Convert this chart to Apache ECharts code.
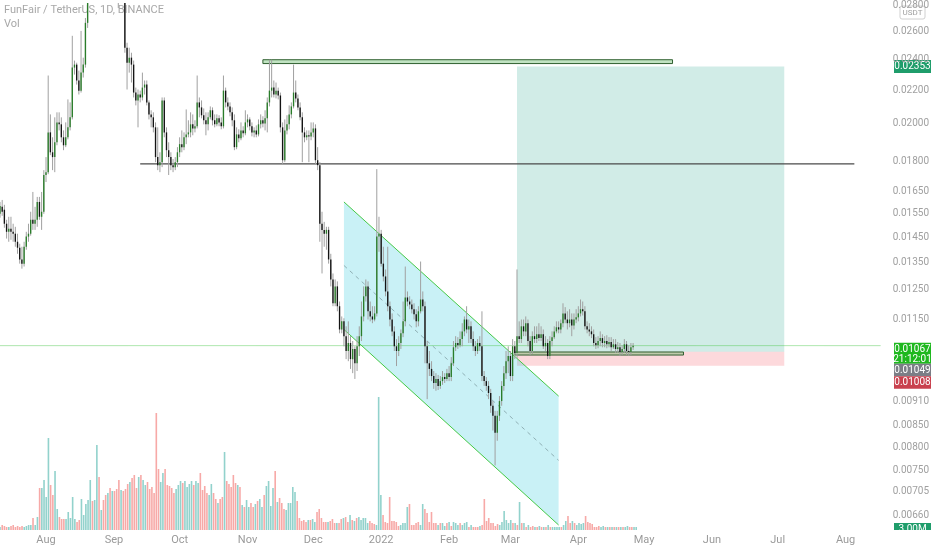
<!DOCTYPE html>
<html>
<head>
<meta charset="utf-8">
<script src="https://cdn.jsdelivr.net/npm/echarts@6/dist/echarts.min.js"></script>
<style>html,body{margin:0;padding:0;background:#fff;}#c{width:932px;height:550px;}</style>
</head>
<body>
<div id="c"></div>
<script>
// ---------- data ----------
const START_DATE = '2021-07-11';
const DAY_COUNT = 403;
const MONTHS = ['Jan','Feb','Mar','Apr','May','Jun','Jul','Aug','Sep','Oct','Nov','Dec'];
const yTicks = [0.028,0.026,0.024,0.022,0.020,0.018,0.0165,0.0155,0.0145,0.0135,0.0125,0.0115,0.0091,0.0085,0.0080,0.0075,0.00705,0.0066];

// daily candles [open, close, low, high] from 2021-07-11
const candles = [
[0.01550,0.01585,0.01533,0.01603],[0.01581,0.01559,0.01541,0.01612],[0.01568,0.01507,0.01490,0.01590],[0.01507,0.01473,0.01445,0.01524],
[0.01473,0.01486,0.01432,0.01537],[0.01486,0.01473,0.01440,0.01537],[0.01473,0.01465,0.01432,0.01507],[0.01465,0.01432,0.01412,0.01494],
[0.01432,0.01408,0.01384,0.01465],[0.01408,0.01362,0.01346,0.01424],[0.01362,0.01346,0.01327,0.01412],[0.01346,0.01412,0.01335,0.01432],
[0.01412,0.01453,0.01400,0.01473],[0.01453,0.01465,0.01432,0.01507],[0.01465,0.01524,0.01457,0.01559],[0.01524,0.01507,0.01481,0.01649],
[0.01507,0.01524,0.01481,0.01581],[0.01524,0.01603,0.01494,0.01626],[0.01603,0.01537,0.01524,0.01626],[0.01537,0.01559,0.01481,0.01649],
[0.01559,0.01730,0.01550,0.01754],[0.01730,0.01744,0.01696,0.01820],[0.01744,0.01952,0.01734,0.02293],[0.01952,0.01845,0.01830,0.02054],
[0.01845,0.01820,0.01754,0.01925],[0.01820,0.01898,0.01744,0.02037],[0.01898,0.02008,0.01882,0.02066],[0.02008,0.01997,0.01963,0.02066],
[0.01997,0.01925,0.01898,0.02037],[0.01925,0.01882,0.01856,0.01963],[0.01882,0.01925,0.01872,0.02008],[0.01925,0.01980,0.01914,0.02143],
[0.01980,0.02037,0.01963,0.02125],[0.02037,0.02345,0.02025,0.02566],[0.02345,0.02365,0.02299,0.02392],[0.02365,0.02261,0.02235,0.02378],
[0.02261,0.02197,0.02173,0.02325],[0.02197,0.02312,0.02185,0.02602],[0.02312,0.02365,0.02280,0.02412],[0.02365,0.02662,0.02345,0.02699],
[0.02662,0.02979,0.02624,0.03064],[0.02979,0.03180,0.02950,0.03300],[0.03180,0.03120,0.03000,0.03350],[0.03120,0.03380,0.03080,0.03520],
[0.03380,0.03650,0.03300,0.03900],[0.03650,0.03420,0.03300,0.03780],[0.03420,0.03550,0.03350,0.03700],[0.03550,0.03380,0.03250,0.03620],
[0.03380,0.03250,0.03150,0.03480],[0.03250,0.03320,0.03180,0.03420],[0.03320,0.03150,0.03080,0.03380],[0.03150,0.03200,0.03050,0.03300],
[0.03200,0.03080,0.03000,0.03250],[0.03080,0.03000,0.02880,0.03150],[0.03000,0.02950,0.02776,0.03050],[0.02950,0.03020,0.02850,0.03100],
[0.03020,0.02900,0.02860,0.03080],[0.02900,0.02481,0.02446,0.02950],[0.02481,0.02378,0.02204,0.02516],[0.02378,0.02412,0.02312,0.02481],
[0.02412,0.02365,0.02248,0.02446],[0.02365,0.02185,0.02155,0.02392],[0.02185,0.02137,0.02107,0.02216],[0.02137,0.02173,0.01980,0.02204],
[0.02173,0.02155,0.02125,0.02197],[0.02155,0.02216,0.02137,0.02312],[0.02216,0.02235,0.02173,0.02261],[0.02235,0.02125,0.02107,0.02261],
[0.02125,0.02054,0.02025,0.02137],[0.02054,0.02037,0.01980,0.02078],[0.02037,0.01980,0.01952,0.02066],[0.01980,0.01820,0.01794,0.02008],
[0.01820,0.01779,0.01754,0.01980],[0.01779,0.01794,0.01744,0.01845],[0.01794,0.02137,0.01769,0.02155],[0.02137,0.01952,0.01925,0.02155],
[0.01952,0.01856,0.01820,0.01980],[0.01856,0.01820,0.01730,0.01898],[0.01820,0.01779,0.01754,0.01845],[0.01779,0.01769,0.01744,0.01810],
[0.01769,0.01794,0.01754,0.01820],[0.01794,0.01845,0.01769,0.01872],[0.01845,0.01888,0.01820,0.01925],[0.01888,0.01872,0.01845,0.01963],
[0.01872,0.01925,0.01856,0.01952],[0.01925,0.01941,0.01888,0.02083],[0.01941,0.01952,0.01925,0.02020],[0.01952,0.01997,0.01925,0.02066],
[0.01997,0.01974,0.01936,0.02054],[0.01974,0.01986,0.01952,0.02020],[0.01986,0.02125,0.01974,0.02293],[0.02125,0.02095,0.02037,0.02155],
[0.02095,0.02049,0.02031,0.02137],[0.02049,0.02020,0.01997,0.02089],[0.02020,0.01997,0.01936,0.02066],[0.01997,0.02037,0.01963,0.02066],
[0.02037,0.02078,0.02025,0.02101],[0.02078,0.02020,0.01991,0.02095],[0.02020,0.01997,0.01980,0.02054],[0.01997,0.02031,0.01986,0.02054],
[0.02031,0.02008,0.01986,0.02049],[0.02008,0.01986,0.01969,0.02037],[0.01986,0.02197,0.01974,0.02293],[0.02197,0.02125,0.02095,0.02216],
[0.02125,0.02101,0.02078,0.02155],[0.02101,0.02066,0.02043,0.02125],[0.02066,0.02020,0.01986,0.02095],[0.02020,0.01872,0.01856,0.02054],
[0.01872,0.01941,0.01861,0.01980],[0.01941,0.01920,0.01898,0.01969],[0.01920,0.01963,0.01909,0.02008],[0.01963,0.01947,0.01925,0.01986],
[0.01947,0.02008,0.01936,0.02078],[0.02008,0.02025,0.01980,0.02054],[0.02025,0.01986,0.01963,0.02037],[0.01986,0.01952,0.01930,0.02008],
[0.01952,0.01963,0.01925,0.01980],[0.01963,0.01941,0.01925,0.01991],[0.01941,0.01997,0.01930,0.02025],[0.01997,0.02020,0.01974,0.02054],
[0.02020,0.02002,0.01980,0.02043],[0.02002,0.02031,0.01963,0.02078],[0.02031,0.02125,0.01952,0.02155],[0.02125,0.02197,0.02101,0.02398],
[0.02197,0.02216,0.02155,0.02398],[0.02216,0.02173,0.02155,0.02261],[0.02173,0.02197,0.02149,0.02248],[0.02197,0.02167,0.02143,0.02216],
[0.02167,0.01980,0.01952,0.02185],[0.01980,0.01804,0.01784,0.02008],[0.01804,0.01963,0.01794,0.02025],[0.01963,0.01997,0.01941,0.02049],
[0.01997,0.02054,0.01969,0.02107],[0.02054,0.02101,0.02031,0.02125],[0.02101,0.02185,0.02089,0.02365],[0.02185,0.02149,0.02125,0.02261],
[0.02149,0.02095,0.02078,0.02173],[0.02095,0.02037,0.02020,0.02125],[0.02037,0.01952,0.01794,0.02066],[0.01952,0.01925,0.01898,0.01980],
[0.01925,0.01936,0.01909,0.01963],[0.01936,0.01930,0.01794,0.01963],[0.01930,0.01952,0.01909,0.02008],[0.01952,0.01974,0.01925,0.02008],
[0.01974,0.01804,0.01784,0.01997],[0.01804,0.01779,0.01754,0.01872],[0.01779,0.01507,0.01432,0.01794],[0.01507,0.01481,0.01309,0.01559],
[0.01481,0.01465,0.01412,0.01515],[0.01465,0.01481,0.01400,0.01494],[0.01481,0.01362,0.01346,0.01494],[0.01362,0.01287,0.01262,0.01384],
[0.01287,0.01203,0.01193,0.01309],[0.01203,0.01262,0.01193,0.01287],[0.01262,0.01193,0.01176,0.01280],[0.01193,0.01117,0.01105,0.01209],
[0.01117,0.01143,0.01105,0.01159],[0.01143,0.01096,0.01065,0.01153],[0.01096,0.01051,0.01027,0.01127],[0.01051,0.01075,0.01021,0.01143],
[0.01075,0.01027,0.00999,0.01096],[0.01027,0.01057,0.00987,0.01081],[0.01057,0.01015,0.00971,0.01065],[0.01015,0.01065,0.00993,0.01096],
[0.01065,0.01096,0.01036,0.01127],[0.01096,0.01159,0.01081,0.01209],[0.01159,0.01227,0.01143,0.01262],[0.01227,0.01262,0.01209,0.01287],
[0.01262,0.01176,0.01149,0.01280],[0.01176,0.01159,0.01143,0.01209],[0.01159,0.01149,0.01137,0.01193],[0.01149,0.01169,0.01143,0.01193],
[0.01169,0.01453,0.01159,0.01759],[0.01453,0.01465,0.01392,0.01537],[0.01465,0.01346,0.01335,0.01481],[0.01346,0.01298,0.01280,0.01412],
[0.01298,0.01244,0.01227,0.01324],[0.01244,0.01193,0.01176,0.01412],[0.01193,0.01149,0.01127,0.01209],[0.01149,0.01111,0.01096,0.01169],
[0.01111,0.01065,0.01051,0.01127],[0.01065,0.01051,0.01007,0.01087],[0.01051,0.01075,0.01036,0.01096],[0.01075,0.01105,0.01057,0.01117],
[0.01105,0.01143,0.01093,0.01209],[0.01143,0.01223,0.01127,0.01335],[0.01223,0.01209,0.01193,0.01244],[0.01209,0.01199,0.01183,0.01227],
[0.01199,0.01183,0.01169,0.01216],[0.01183,0.01166,0.01149,0.01203],[0.01166,0.01143,0.01124,0.01183],[0.01143,0.01176,0.01127,0.01193],
[0.01176,0.01216,0.01169,0.01354],[0.01216,0.01193,0.01176,0.01244],[0.01193,0.01065,0.01015,0.01209],[0.01065,0.01015,0.00917,0.01081],
[0.01015,0.00999,0.00979,0.01051],[0.00999,0.00979,0.00965,0.01021],[0.00979,0.00960,0.00944,0.00993],[0.00960,0.00971,0.00939,0.00987],
[0.00971,0.00952,0.00941,0.00982],[0.00952,0.00965,0.00944,0.00979],[0.00965,0.00976,0.00955,0.00993],[0.00976,0.00971,0.00960,0.00987],
[0.00971,0.00987,0.00965,0.00999],[0.00987,0.00976,0.00965,0.01007],[0.00976,0.01015,0.00965,0.01033],[0.01015,0.01062,0.01007,0.01081],
[0.01062,0.01075,0.01051,0.01096],[0.01075,0.01068,0.01057,0.01093],[0.01068,0.01087,0.01062,0.01111],[0.01087,0.01111,0.01065,0.01137],
[0.01111,0.01149,0.01096,0.01159],[0.01149,0.01117,0.01105,0.01193],[0.01117,0.01127,0.01075,0.01149],[0.01127,0.01087,0.01075,0.01143],
[0.01087,0.01065,0.01051,0.01111],[0.01065,0.01051,0.01036,0.01081],[0.01051,0.01075,0.01042,0.01087],[0.01075,0.01065,0.01051,0.01096],
[0.01065,0.00979,0.00965,0.01176],[0.00979,0.00965,0.00952,0.00993],[0.00965,0.00952,0.00939,0.00976],[0.00952,0.00933,0.00917,0.00965],
[0.00933,0.00900,0.00882,0.00944],[0.00900,0.00875,0.00839,0.00912],[0.00875,0.00834,0.00760,0.00887],[0.00834,0.00875,0.00815,0.00887],
[0.00875,0.00912,0.00862,0.00925],[0.00912,0.00952,0.00900,0.00965],[0.00952,0.00987,0.00939,0.01007],[0.00987,0.01021,0.00971,0.01051],
[0.01021,0.01036,0.00987,0.01065],[0.01036,0.00979,0.00965,0.01051],[0.00979,0.01065,0.00965,0.01087],[0.01065,0.01045,0.01027,0.01081],
[0.01045,0.01096,0.01030,0.01324],[0.01096,0.01087,0.01075,0.01143],[0.01087,0.01127,0.01075,0.01149],[0.01127,0.01111,0.01096,0.01149],
[0.01111,0.01137,0.01096,0.01159],[0.01137,0.01081,0.01065,0.01149],[0.01081,0.01051,0.01039,0.01096],[0.01051,0.01096,0.01042,0.01111],
[0.01096,0.01087,0.01075,0.01127],[0.01087,0.01102,0.01075,0.01127],[0.01102,0.01090,0.01081,0.01137],[0.01090,0.01102,0.01081,0.01127],
[0.01102,0.01065,0.01057,0.01117],[0.01065,0.01075,0.01051,0.01096],[0.01075,0.01036,0.01027,0.01087],[0.01036,0.01081,0.01027,0.01096],
[0.01081,0.01093,0.01065,0.01111],[0.01093,0.01111,0.01087,0.01127],[0.01111,0.01124,0.01105,0.01143],[0.01124,0.01117,0.01105,0.01143],
[0.01117,0.01137,0.01105,0.01149],[0.01137,0.01169,0.01124,0.01203],[0.01169,0.01149,0.01137,0.01190],[0.01149,0.01137,0.01117,0.01176],
[0.01137,0.01149,0.01124,0.01183],[0.01149,0.01130,0.01096,0.01169],[0.01130,0.01149,0.01117,0.01169],[0.01149,0.01156,0.01137,0.01183],
[0.01156,0.01169,0.01143,0.01193],[0.01169,0.01183,0.01159,0.01216],[0.01183,0.01176,0.01162,0.01209],[0.01176,0.01127,0.01117,0.01193],
[0.01127,0.01117,0.01105,0.01143],[0.01117,0.01111,0.01096,0.01137],[0.01111,0.01102,0.01090,0.01127],[0.01102,0.01075,0.01065,0.01117],
[0.01075,0.01068,0.01057,0.01093],[0.01068,0.01081,0.01059,0.01096],[0.01081,0.01090,0.01065,0.01111],[0.01090,0.01075,0.01062,0.01102],
[0.01075,0.01081,0.01062,0.01096],[0.01081,0.01071,0.01059,0.01099],[0.01071,0.01078,0.01062,0.01093],[0.01078,0.01062,0.01051,0.01093],
[0.01062,0.01071,0.01057,0.01087],[0.01071,0.01057,0.01045,0.01087],[0.01057,0.01062,0.01045,0.01078],[0.01062,0.01048,0.01036,0.01075],
[0.01048,0.01057,0.01039,0.01068],[0.01057,0.01071,0.01045,0.01087],[0.01071,0.01051,0.01039,0.01081],[0.01051,0.01048,0.01036,0.01068],
[0.01048,0.01062,0.01039,0.01075],[0.01062,0.01067,0.01054,0.01075]
];

// daily volume (millions)
const volumes = [
3,5,4,3,3,4,5,3,4,3,4,3,4,5,5,
12,5,13,42,42,50,33,92,45,35,
59,21,13,11,11,11,18,12,33,11,
8,10,31,15,26,30,50,29,30,85,
53,20,30,35,37,42,39,39,41,50,
40,39,41,46,48,52,55,42,53,55,
50,45,48,41,43,37,117,61,48,57,
61,45,44,42,37,41,45,49,47,49,
43,46,49,45,49,47,57,40,44,37,
35,46,37,31,27,31,33,78,49,46,
43,55,47,45,43,25,23,30,23,27,
23,26,29,31,23,35,44,49,24,42,
59,28,32,27,21,20,27,27,43,38,
29,12,9,10,8,10,10,11,8,18,
21,12,8,8,8,9,11,
7,7,7,11,12,13,8,15,10,9,12,13,10,12,12,7,9,7,6,5,
133,
35,15,8,7,33,9,9,8,4,5,7,7,23,26,
5,5,7,8,5,
26,21,17,8,18,7,7,5,7,7,4,7,8,4,8,7,5,7,5,7,8,3,5,3,3,3,4,5,31,
9,12,7,7,4,6,5,8,19,10,7,10,7,7,5,
28,
7,7,3,5,3,4,3,3,4,3,3,3,5,3,3,3,3,3,3,5,
9,14,7,9,7,5,7,6,7,14,8,7,6,3,3,4,3,4,3,3,3,3,3,3,3,3,3,3,4,3,3,3,3
];

// drawings (date, price)
const lastPrice = 0.01067;
const countdown = '21:12:01';
const targetPrice = 0.02353;
const entryPrice = 0.01049;
const stopPrice = 0.01008;
const positionSpan = ['2022-03-04', '2022-07-04'];
const channelUpper = [['2021-12-15', 0.01603], ['2022-03-23', 0.00925]];
const channelMid   = [['2021-12-15', 0.01339], ['2022-03-23', 0.00771]];
const channelLower = [['2021-12-15', 0.01117], ['2022-03-23', 0.00642]];
const resistanceBox = [['2021-11-08', 0.02398], ['2022-05-14', 0.02372]];
const entryBox = [['2022-03-03', 0.01048], ['2022-05-19', 0.01039]];
const supportLine = [['2021-09-13', 0.01785], ['2022-08-05', 0.01785]];

// ---------- build ----------
const dates = [];
const t0 = Date.parse(START_DATE + 'T00:00:00Z');
for (let i = 0; i < DAY_COUNT; i++) dates.push(new Date(t0 + i * 86400000).toISOString().slice(0, 10));
const idx = d => dates.indexOf(d);

const UP = '#2a7d2a', DOWN = '#141414', WICK = '#a0a0a0';
const VOL_UP = 'rgba(38,166,154,0.5)', VOL_DOWN = 'rgba(239,83,80,0.5)';
const FONT = 'Roboto, "Noto Sans", sans-serif';

function candleItem(params, api) {
  const i = api.value(0);
  const o = api.value(1), c = api.value(2), l = api.value(3), h = api.value(4);
  const pO = api.coord([i, o]), pC = api.coord([i, c]);
  const pL = api.coord([i, l]), pH = api.coord([i, h]);
  const band = api.coord([i + 1, c])[0] - pC[0];
  const w = Math.max(1, band * 0.62);
  const top = Math.min(pO[1], pC[1]);
  const hgt = Math.max(1, Math.abs(pO[1] - pC[1]));
  return { type: 'group', children: [
    { type: 'line', shape: { x1: pH[0], y1: pH[1], x2: pL[0], y2: pL[1] }, style: { stroke: WICK, lineWidth: 1 } },
    { type: 'rect', shape: { x: pC[0] - w / 2, y: top, width: w, height: hgt }, style: { fill: c >= o ? UP : DOWN } }
  ]};
}

function rectOf(a, b) {
  return { x: Math.min(a[0], b[0]), y: Math.min(a[1], b[1]), width: Math.abs(b[0] - a[0]), height: Math.abs(b[1] - a[1]) };
}

function drawingItem(params, api) {
  const P = (d, v) => api.coord([idx(d), v]);
  const seg = (pts, style) => {
    const a = P(pts[0][0], pts[0][1]), b = P(pts[1][0], pts[1][1]);
    return { type: 'line', shape: { x1: a[0], y1: a[1], x2: b[0], y2: b[1] }, style };
  };
  const pl0 = api.coord([0, lastPrice]), pl1 = api.coord([DAY_COUNT - 1, lastPrice]);
  return { type: 'group', children: [
    { type: 'rect', shape: rectOf(P(positionSpan[0], targetPrice), P(positionSpan[1], entryPrice)), style: { fill: 'rgba(8,153,129,0.19)' } },
    { type: 'rect', shape: rectOf(P(positionSpan[0], entryPrice), P(positionSpan[1], stopPrice)), style: { fill: 'rgba(242,54,69,0.19)' } },
    { type: 'polygon', shape: { points: [
        P(channelUpper[0][0], channelUpper[0][1]), P(channelUpper[1][0], channelUpper[1][1]),
        P(channelLower[1][0], channelLower[1][1]), P(channelLower[0][0], channelLower[0][1]) ] },
      style: { fill: 'rgba(0,188,212,0.21)' } },
    seg(channelUpper, { stroke: '#45c945', lineWidth: 1 }),
    seg(channelLower, { stroke: '#45c945', lineWidth: 1 }),
    seg(channelMid, { stroke: '#8fb0b5', lineWidth: 1, lineDash: [4, 4] }),
    seg(supportLine, { stroke: '#4a4a4a', lineWidth: 1.2 }),
    { type: 'line', shape: { x1: pl0[0], y1: pl0[1], x2: pl1[0], y2: pl1[1] }, style: { stroke: 'rgba(76,200,76,0.45)', lineWidth: 1 } },
    { type: 'rect', shape: rectOf(P(resistanceBox[0][0], resistanceBox[0][1]), P(resistanceBox[1][0], resistanceBox[1][1])),
      style: { fill: 'rgba(76,175,80,0.35)', stroke: '#2f5f2f', lineWidth: 1 } },
    { type: 'rect', shape: rectOf(P(entryBox[0][0], entryBox[0][1]), P(entryBox[1][0], entryBox[1][1])),
      style: { fill: 'rgba(76,175,80,0.35)', stroke: '#2f5f2f', lineWidth: 1 } }
  ]};
}

const chart = echarts.init(document.getElementById('c'), null, { renderer: 'canvas' });
const option = {
  animation: false,
  backgroundColor: '#ffffff',
  grid: [
    { left: 0, right: 47, top: 0, bottom: 20 },
    { left: 0, right: 47, top: 395, bottom: 20 }
  ],
  xAxis: [
    { type: 'category', gridIndex: 0, data: dates, boundaryGap: false,
      axisLine: { show: false }, axisTick: { show: false }, splitLine: { show: false },
      axisLabel: { color: '#9a9a9a', fontSize: 11, fontFamily: FONT, margin: 5,
        interval: (i, v) => v.slice(8) === '01',
        formatter: v => { const m = +v.slice(5, 7); return m === 1 ? v.slice(0, 4) : MONTHS[m - 1]; } } },
    { type: 'category', gridIndex: 1, data: dates, boundaryGap: false, show: false }
  ],
  yAxis: [
    { type: 'log', gridIndex: 0, position: 'right', min: 0.00633, max: 0.02816,
      axisLine: { show: false }, axisTick: { show: false }, splitLine: { show: false },
      axisLabel: { customValues: yTicks, color: '#a0a0a0', fontSize: 10, fontFamily: FONT, margin: 12,
        formatter: v => v.toFixed(5) } },
    { type: 'value', gridIndex: 1, min: 0, max: 135, show: false, splitLine: { show: false } }
  ],
  series: [
    { type: 'bar', xAxisIndex: 1, yAxisIndex: 1, z: 1, barWidth: 1.6,
      data: volumes.map((v, i) => ({ value: v, itemStyle: { color: candles[i][1] >= candles[i][0] ? VOL_UP : VOL_DOWN } })) },
    { type: 'custom', xAxisIndex: 0, yAxisIndex: 0, z: 2, clip: true, silent: true,
      renderItem: drawingItem, data: [[0, lastPrice]] },
    { type: 'custom', xAxisIndex: 0, yAxisIndex: 0, z: 3, clip: true,
      renderItem: candleItem, encode: { x: 0, y: [1, 2, 3, 4] },
      data: candles.map((c, i) => [i, c[0], c[1], c[2], c[3]]) }
  ]
};
chart.setOption(option);

// price-scale badges
const yPix = v => chart.convertToPixel({ yAxisIndex: 0 }, v);
const BX = 894, BW = 37;
const badge = (y, h, fill, lines) => ({
  type: 'group', children: [
    { type: 'rect', shape: { x: BX, y: y, width: BW, height: h }, style: { fill } },
    ...lines.map((t, k) => ({ type: 'text', style: { text: t, x: BX + BW / 2, y: y + 6.5 + k * 10,
      fill: '#ffffff', font: '10px ' + FONT, align: 'center', verticalAlign: 'middle' } }))
  ]});
const b1 = yPix(lastPrice) - 3;
const b2 = Math.max(b1 + 21, yPix(entryPrice) - 6);
const b3 = Math.max(b2 + 12.5, yPix(stopPrice) - 6);
const vY = chart.convertToPixel({ yAxisIndex: 1 }, volumes[volumes.length - 1]);
chart.setOption({ graphic: [
  { type: 'text', left: 4, top: 5, style: { text: 'FunFair / TetherUS, 1D, BINANCE', fill: '#a8a8a8', font: '11px ' + FONT } },
  { type: 'text', left: 4, top: 19, style: { text: 'Vol', fill: '#a8a8a8', font: '11px ' + FONT } },
  { type: 'rect', shape: { x: 900, y: 6, width: 25, height: 13, r: 2 }, style: { fill: '#fff', stroke: '#d0d0d0', lineWidth: 1 } },
  { type: 'text', style: { text: 'USDT', x: 912.5, y: 12.5, fill: '#a0a0a0', font: '8px ' + FONT, align: 'center', verticalAlign: 'middle' } },
  badge(yPix(targetPrice) - 6.5, 13, '#1f9d6b', [targetPrice.toFixed(5)]),
  badge(b1, 21, '#1fb81f', [lastPrice.toFixed(5), countdown]),
  badge(b2, 12.5, '#7b7e86', [entryPrice.toFixed(5)]),
  badge(b3, 12.5, '#c9414e', [stopPrice.toFixed(5)]),
  badge(vY - 4, 7, '#1f9d6b', [volumes[volumes.length - 1].toFixed(2) + 'M'])
]});
</script>
</body>
</html>
